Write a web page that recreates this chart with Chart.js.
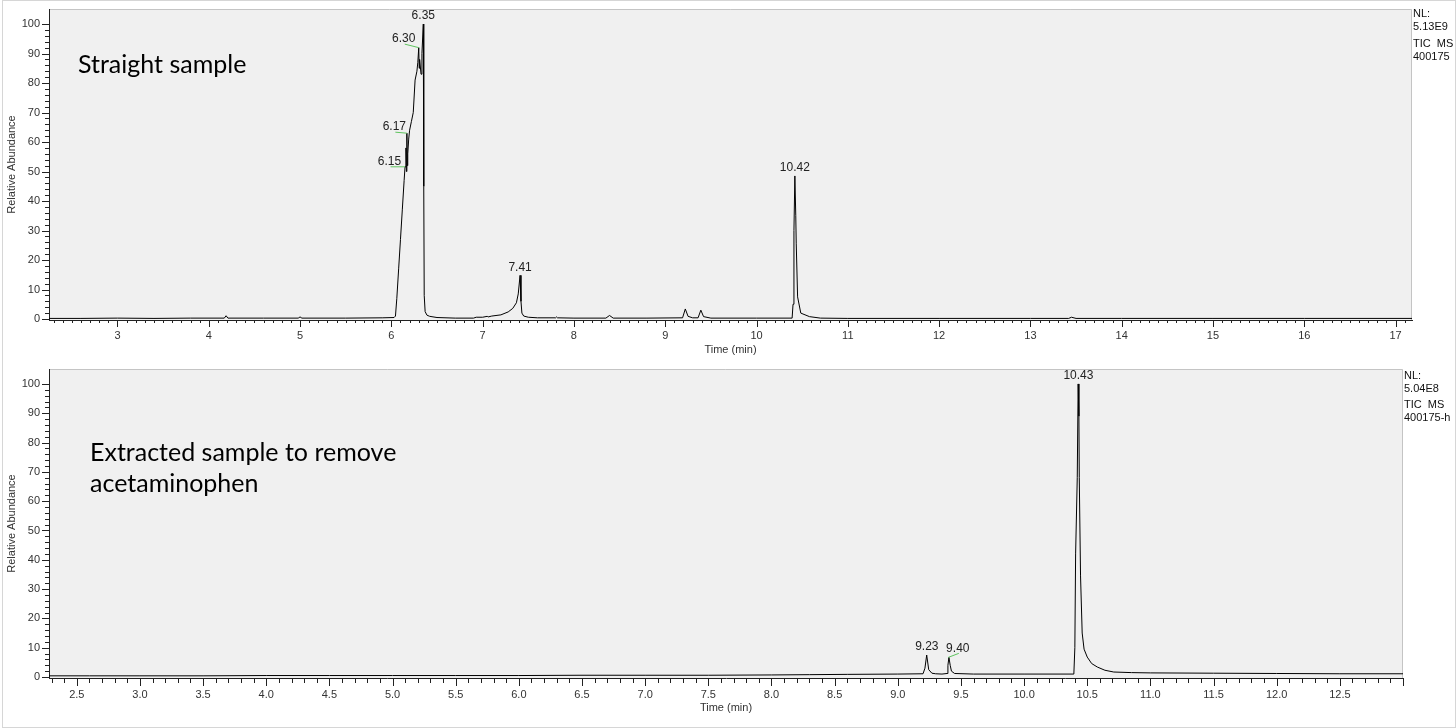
<!DOCTYPE html>
<html>
<head>
<meta charset="utf-8">
<script src="https://cdn.jsdelivr.net/npm/chart.js@4.4.0/dist/chart.umd.min.js"></script>
<style>
  html, body { margin: 0; padding: 0; background: #fff; }
  body { width: 1456px; height: 728px; position: relative; overflow: hidden; font-family: "Liberation Sans", Arial, sans-serif; }
  .frame { position: absolute; left: 2px; top: 0; width: 1452px; height: 726px; border: 1px solid #d6d6d6; }
  canvas { position: absolute; left: 0; }
  #topChart { top: 0; }
  #bottomChart { top: 360px; }
  .note { position: absolute; font-family: Lato, "Open Sans", sans-serif; font-size: 25px; line-height: 31px; color: #000; white-space: nowrap; }
  .nl { position: absolute; font-size: 11px; line-height: 13px; color: #111; white-space: pre; }
</style>
</head>
<body>
<div class="frame"></div>
<canvas id="topChart" width="1456" height="362"></canvas>
<canvas id="bottomChart" width="1456" height="368"></canvas>

<div class="note" style="left:78px; top:48px;">Straight sample</div>
<div class="note" style="left:90px; top:436px;">Extracted sample to remove<br>acetaminophen</div>

<div class="nl" style="left:1413px; top:7px;"><div>NL:</div><div>5.13E9</div><div style="margin-top:4px">TIC  MS</div><div>400175</div></div>
<div class="nl" style="left:1404px; top:369px;"><div>NL:</div><div>5.04E8</div><div style="margin-top:3px">TIC  MS</div><div>400175-h</div></div>

<script>
// straight sample trace (time in min, relative abundance %)
const topTime = [2.25, 2.6, 3.0, 3.4, 3.8, 4.17, 4.19, 4.21, 4.6, 4.98, 5.0, 5.02, 5.5, 5.9, 6.03, 6.045,
  6.06, 6.08, 6.10, 6.12, 6.14, 6.15, 6.16, 6.165, 6.17, 6.175, 6.18, 6.19, 6.20, 6.22, 6.24, 6.26, 6.28,
  6.29, 6.30, 6.305, 6.31, 6.325, 6.335, 6.35, 6.355, 6.36, 6.37, 6.39, 6.42, 6.5, 6.7, 6.9, 6.93, 7.0,
  7.05, 7.06, 7.1, 7.2, 7.28, 7.33, 7.37, 7.39, 7.41, 7.42, 7.43, 7.45, 7.5, 7.6, 7.8, 7.81, 7.82, 8.0,
  8.35, 8.39, 8.43, 8.8, 9.19, 9.22, 9.25, 9.3, 9.36, 9.39, 9.42, 9.5, 10.0, 10.39, 10.40, 10.41, 10.42,
  10.43, 10.435, 10.45, 10.485, 10.58, 10.7, 11.0, 12.0, 13.0, 13.42, 13.45, 13.5, 14.0, 15.0, 16.0, 17.18];
const topAbund = [0.2, 0.2, 0.3, 0.2, 0.3, 0.3, 1.1, 0.3, 0.3, 0.3, 0.7, 0.3, 0.3, 0.4, 0.5, 1,
  7, 17, 27, 37, 47, 51.6, 58, 50, 63, 52, 56, 61, 64, 67, 70, 81, 84,
  87, 92, 85, 88, 83, 90, 100, 45, 8, 2.5, 1.3, 0.9, 0.5, 0.3, 0.3, 0.6, 0.6,
  0.9, 0.7, 1.0, 1.4, 2.4, 3.6, 5.5, 8.5, 14.8, 6, 2, 1.0, 0.6, 0.4, 0.4, 0.7, 0.4, 0.3,
  0.3, 1.2, 0.3, 0.3, 0.4, 3.4, 0.9, 0.4, 0.4, 3.0, 0.8, 0.3, 0.3, 0.3, 5, 30, 48.5,
  35, 25.7, 7.5, 2, 0.8, 0.3, 0.2, 0.2, 0.2, 0.2, 0.6, 0.2, 0.2, 0.2, 0.2, 0.2];

// extracted sample trace
const bottomTime = [2.28, 2.6, 3.0, 3.5, 4.0, 4.5, 5.0, 5.5, 6.0, 6.5, 7.0, 7.5, 8.0, 8.3, 8.6, 9.0, 9.2,
  9.215, 9.229, 9.245, 9.27, 9.3, 9.35, 9.39, 9.397, 9.405, 9.415, 9.425, 9.45, 9.6, 10.0, 10.394,
  10.402, 10.408, 10.421, 10.428, 10.434, 10.437, 10.447, 10.46, 10.475, 10.5, 10.535, 10.58, 10.64,
  10.71, 10.85, 11.0, 11.5, 12.0, 12.5, 13.0];
const bottomAbund = [0.4, 0.4, 0.4, 0.4, 0.5, 0.5, 0.5, 0.5, 0.5, 0.6, 0.6, 0.6, 0.7, 0.8, 0.9, 1.0, 1.1,
  3, 7.5, 2.5, 1.3, 1.1, 1.0, 1.2, 4, 6.7, 4, 2, 1.2, 1.0, 1.0, 1.0,
  10, 42, 68, 100, 89, 68, 34.5, 15, 9.5, 6.8, 4.6, 3.4, 2.3,
  1.7, 1.5, 1.4, 1.3, 1.2, 1.1, 1.1];

// annotated peaks (retention time, abundance at the label)
const topPeakTimes = [6.35, 6.30, 6.17, 6.15, 7.41, 10.42];
const topPeakHeights = [100, 92, 63, 51.6, 14.8, 48.5];
const bottomPeakTimes = [10.43, 9.23, 9.40];
const bottomPeakHeights = [100, 7.5, 6.7];

// axis tick labels
const topXTicks = [3, 4, 5, 6, 7, 8, 9, 10, 11, 12, 13, 14, 15, 16, 17];
const bottomXTicks = [2.5, 3.0, 3.5, 4.0, 4.5, 5.0, 5.5, 6.0, 6.5, 7.0, 7.5, 8.0, 8.5, 9.0, 9.5, 10.0, 10.5, 11.0, 11.5, 12.0, 12.5];
const yTicks = [0, 10, 20, 30, 40, 50, 60, 70, 80, 90, 100];

// label placement for peaks with a green leader line: [dx, dy] from the peak point
const leaderOffsets = { '6.30': [-15, -8.5], '6.17': [-12.5, -6], '6.15': [-15.5, -5], '9.40': [9.5, -9] };

Chart.defaults.font.family = '"Liberation Sans", Arial, sans-serif';
Chart.defaults.color = '#333';

const chromPlot = {
  id: 'chromPlot',
  beforeDraw(chart) {
    const { ctx, chartArea: a } = chart;
    ctx.save();
    ctx.fillStyle = '#f0f0f0';
    ctx.fillRect(a.left, a.top, a.right - a.left, a.bottom - a.top);
    ctx.strokeStyle = '#c4c4c4';
    ctx.lineWidth = 1;
    ctx.beginPath();
    ctx.moveTo(a.left, a.top + 0.5);
    ctx.lineTo(a.right - 0.5, a.top + 0.5);
    ctx.lineTo(a.right - 0.5, a.bottom);
    ctx.stroke();
    ctx.restore();
  },
  afterDraw(chart, args, opts) {
    const { ctx, chartArea: a, scales: { x, y } } = chart;
    ctx.save();
    ctx.strokeStyle = '#222';
    ctx.lineWidth = 1;
    ctx.beginPath();
    // x tick marks
    for (let i = Math.ceil(x.min / opts.xMinor); i * opts.xMinor <= x.max + 1e-9; i++) {
      const v = i * opts.xMinor;
      const r = v / opts.xMajor;
      const major = Math.abs(r - Math.round(r)) < 1e-6;
      const px = Math.round(x.getPixelForValue(v)) + 0.5;
      ctx.moveTo(px, a.bottom);
      ctx.lineTo(px, a.bottom + (major ? opts.xMajorLen : opts.xMinorLen));
    }
    // y tick marks
    for (let v = 0; v <= 100; v += 2) {
      const py = Math.round(y.getPixelForValue(v)) + 0.5;
      ctx.moveTo(a.left, py);
      ctx.lineTo(a.left - (v % 10 === 0 ? 7 : 4), py);
    }
    ctx.stroke();

    // peak labels
    ctx.font = '12px "Liberation Sans", Arial, sans-serif';
    ctx.fillStyle = '#222';
    ctx.textAlign = 'center';
    ctx.textBaseline = 'middle';
    opts.times.forEach((t, i) => {
      const txt = t.toFixed(2);
      const px = x.getPixelForValue(t);
      const py = y.getPixelForValue(opts.heights[i]);
      const off = leaderOffsets[txt];
      if (off) {
        const tx = px + off[0], ty = py + off[1];
        ctx.strokeStyle = '#5fc45f';
        ctx.beginPath();
        ctx.moveTo(tx + 1, ty + 5);
        ctx.lineTo(px, py);
        ctx.stroke();
        ctx.fillText(txt, tx, ty);
      } else {
        ctx.fillText(txt, px, py - 8);
      }
    });
    ctx.restore();
  }
};

function makeChart(id, times, values, cfg) {
  return new Chart(document.getElementById(id), {
    type: 'line',
    data: {
      datasets: [{
        data: times.map((t, i) => ({ x: t, y: values[i] })),
        borderColor: '#000',
        borderWidth: 1,
        pointRadius: 0,
        tension: 0,
        fill: false
      }]
    },
    options: {
      responsive: false,
      animation: false,
      events: [],
      layout: { padding: { top: 9, right: cfg.rightPad, left: 0, bottom: 0 } },
      plugins: {
        legend: { display: false },
        tooltip: { enabled: false },
        chromPlot: {
          times: cfg.peakTimes, heights: cfg.peakHeights,
          xMinor: 0.1, xMajor: cfg.xMajor, xMinorLen: cfg.xMinorLen, xMajorLen: cfg.xMajorLen
        }
      },
      scales: {
        x: {
          type: 'linear',
          min: cfg.xMin,
          max: cfg.xMax,
          afterBuildTicks: (s) => { s.ticks = cfg.xTicks.map(v => ({ value: v })); },
          afterFit: (s) => { s.height = cfg.xHeight; s.paddingLeft = 0; s.paddingRight = 0; },
          grid: { display: false, drawTicks: false },
          border: { display: true, color: '#222', width: 1 },
          ticks: {
            autoSkip: false, maxRotation: 0, padding: cfg.xLabelPad,
            font: { size: 11 }, color: '#333',
            callback: cfg.xFormat
          },
          title: { display: true, text: 'Time (min)', font: { size: 11 }, color: '#333', padding: { top: 0, bottom: cfg.xTitlePad } }
        },
        y: {
          type: 'linear',
          min: -0.34,
          max: 105.1,
          afterBuildTicks: (s) => { s.ticks = yTicks.map(v => ({ value: v })); },
          afterFit: (s) => { s.width = 49; s.paddingTop = 0; s.paddingBottom = 0; },
          grid: { display: false, drawTicks: false },
          border: { display: true, color: '#222', width: 1 },
          ticks: { padding: 9, font: { size: 11 }, color: '#333', callback: (v) => String(v) },
          title: { display: true, text: 'Relative Abundance', font: { size: 11 }, color: '#333', padding: { top: 5, bottom: 0 } }
        }
      }
    },
    plugins: [chromPlot]
  });
}

makeChart('topChart', topTime, topAbund, {
  xMin: 2.25, xMax: 17.18, xTicks: topXTicks, xFormat: (v) => String(v),
  xMajor: 1, xMinorLen: 3, xMajorLen: 7, xHeight: 42, xLabelPad: 9, xTitlePad: 5, rightPad: 44,
  peakTimes: topPeakTimes, peakHeights: topPeakHeights
});

makeChart('bottomChart', bottomTime, bottomAbund, {
  xMin: 2.28, xMax: 13.0, xTicks: bottomXTicks, xFormat: (v) => v.toFixed(1),
  xMajor: 0.5, xMinorLen: 5, xMajorLen: 8, xHeight: 50, xLabelPad: 10, xTitlePad: 13, rightPad: 53,
  peakTimes: bottomPeakTimes, peakHeights: bottomPeakHeights
});
</script>
</body>
</html>
